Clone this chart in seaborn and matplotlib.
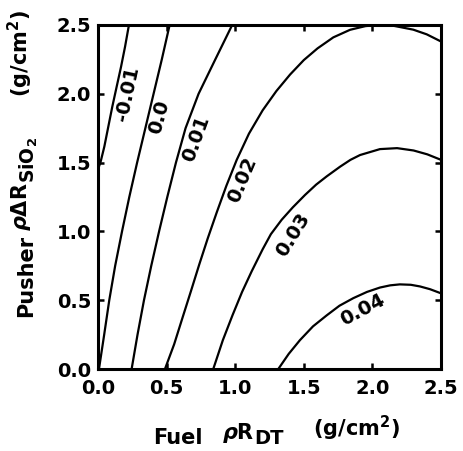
import numpy as np
import pandas as pd
import matplotlib
matplotlib.use("Agg")
import matplotlib.pyplot as plt
import seaborn as sns

# Contour levels and points (x = fuel rhoR, y = pusher rho dR)
levels = ["-0.01", "0.0", "0.01", "0.02", "0.03", "0.04"]

x_m001 = [0.0, 0.02, 0.046, 0.075, 0.104, 0.136, 0.168, 0.197, 0.221, 0.226]
y_m001 = [1.45, 1.51, 1.616, 1.761, 1.906, 2.052, 2.197, 2.342, 2.476, 2.50]

x_000 = [0.007, 0.045, 0.082, 0.125, 0.175, 0.228, 0.285, 0.345, 0.405, 0.465, 0.522]
y_000 = [0.0, 0.25, 0.50, 0.75, 1.00, 1.25, 1.50, 1.75, 2.00, 2.25, 2.50]

x_001 = [0.245, 0.288, 0.335, 0.388, 0.445, 0.505, 0.568, 0.638, 0.733, 0.855, 0.978]
y_001 = [0.0, 0.25, 0.50, 0.75, 1.00, 1.25, 1.50, 1.75, 2.00, 2.25, 2.50]

x_002 = [0.488, 0.555, 0.615, 0.677, 0.738, 0.80, 0.866, 0.935, 1.011, 1.10, 1.20, 1.30,
         1.40, 1.50, 1.60, 1.715, 1.837, 1.95, 2.05, 2.15, 2.298, 2.396, 2.50]
y_002 = [0.0, 0.18, 0.37, 0.565, 0.76, 0.95, 1.14, 1.33, 1.52, 1.71, 1.88, 2.02,
         2.14, 2.245, 2.33, 2.41, 2.465, 2.492, 2.50, 2.495, 2.466, 2.432, 2.38]

x_003 = [0.84, 0.91, 0.98, 1.05, 1.12, 1.20, 1.26, 1.339, 1.42, 1.509, 1.59, 1.667,
         1.764, 1.84, 1.91, 2.055, 2.18, 2.30, 2.40, 2.50]
y_003 = [0.0, 0.21, 0.39, 0.56, 0.71, 0.87, 0.98, 1.085, 1.175, 1.265, 1.34, 1.40,
         1.47, 1.52, 1.555, 1.598, 1.605, 1.588, 1.56, 1.52]

x_004 = [1.314, 1.39, 1.472, 1.567, 1.667, 1.76, 1.861, 1.96, 2.055, 2.13, 2.20, 2.28,
         2.347, 2.42, 2.50]
y_004 = [0.0, 0.11, 0.21, 0.31, 0.39, 0.46, 0.515, 0.56, 0.592, 0.608, 0.615, 0.612,
         0.60, 0.58, 0.55]

# label positions (data coords) and rotation (degrees)
label_x = [0.215, 0.445, 0.715, 1.05, 1.42, 1.93]
label_y = [2.00, 1.83, 1.676, 1.374, 0.974, 0.432]
label_rot = [78, 75, 70, 67, 58, 28]

xticks = [0.0, 0.5, 1.0, 1.5, 2.0, 2.5]
yticks = [0.0, 0.5, 1.0, 1.5, 2.0, 2.5]

xs = [x_m001, x_000, x_001, x_002, x_003, x_004]
ys = [y_m001, y_000, y_001, y_002, y_003, y_004]
rows = []
for lev, xx, yy in zip(levels, xs, ys):
    for i, (a, b) in enumerate(zip(xx, yy)):
        rows.append({"level": lev, "order": i, "x": a, "y": b})
df = pd.DataFrame(rows)

sns.set_theme(style="ticks")
plt.rcParams["font.family"] = ["DejaVu Sans"]
plt.rcParams["font.weight"] = "bold"
plt.rcParams["text.color"] = "black"
plt.rcParams["axes.labelcolor"] = "black"
plt.rcParams["xtick.color"] = "black"
plt.rcParams["ytick.color"] = "black"
plt.rcParams["mathtext.fontset"] = "custom"
plt.rcParams["mathtext.rm"] = "DejaVu Sans:bold"
plt.rcParams["mathtext.bf"] = "DejaVu Sans:bold"
plt.rcParams["mathtext.it"] = "DejaVu Sans:italic:bold"
plt.rcParams["mathtext.sf"] = "DejaVu Sans:bold"

W, H = 463, 451
fig = plt.figure(figsize=(W / 100, H / 100), dpi=100)
ax = fig.add_axes([0.2117, 0.1818, 0.7408, 0.7628])

sns.lineplot(data=df, x="x", y="y", units="level", estimator=None, sort=False,
             color="black", linewidth=1.6, ax=ax, legend=False)
for ln in ax.lines:
    ln.set_solid_joinstyle("round")
    ln.set_solid_capstyle("round")

for t, lx, ly, r in zip(levels, label_x, label_y, label_rot):
    ax.text(lx, ly, t, rotation=r, ha="center", va="center", fontsize=14,
            fontweight="bold", rotation_mode="anchor", color="black")

ax.set_xlim(0, 2.5)
ax.set_ylim(0, 2.5)
ax.set_xticks(xticks)
ax.set_yticks(yticks)
ax.set_xticklabels([f"{v:.1f}" for v in xticks], fontsize=14, fontweight="bold")
ax.set_yticklabels([f"{v:.1f}" for v in yticks], fontsize=14, fontweight="bold")
ax.tick_params(direction="in", length=4, width=1.8, top=True, right=True, pad=5,
               colors="black")
ax.tick_params(axis="x", pad=7)
for s in ax.spines.values():
    s.set_linewidth(2.2)
    s.set_color("black")
ax.set_xlabel("")
ax.set_ylabel("")


def ftext(px, py, s, size=15, rot=0, **kw):
    fig.text(px / W, 1 - py / H, s, fontsize=size, fontweight="bold", rotation=rot,
             rotation_mode="anchor", ha="left", va="baseline", color="black", **kw)


# x-axis label pieces
ftext(153, 444, "Fuel")
ftext(222, 439, r"$\rho$R")
ftext(254, 444, "DT", size=14)
ftext(313, 436, r"(g/cm$^{\mathrm{2}}$)")

# y-axis label pieces (rotated, reading upward)
ftext(32, 317, "Pusher", rot=90)
ftext(27, 231, r"$\rho$ΔR", rot=90)
ftext(35, 183, r"SiO$_{\mathrm{2}}$", size=13.5, rot=90)
ftext(28, 97, r"(g/cm$^{\mathrm{2}}$)", rot=90)

fig.savefig("out.png", dpi=100)
